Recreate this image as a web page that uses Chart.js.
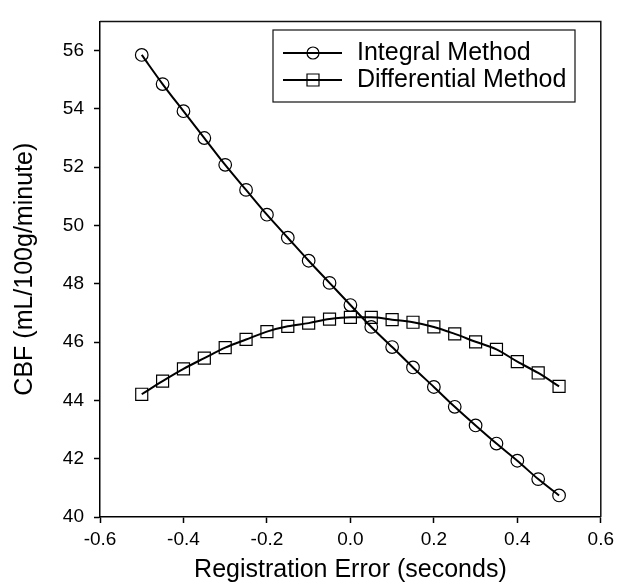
<!DOCTYPE html>
<html>
<head>
<meta charset="utf-8">
<script src="https://cdn.jsdelivr.net/npm/chart.js@4.4.1/dist/chart.umd.min.js"></script>
<style>
  html, body { margin: 0; padding: 0; background: #fff; }
  #wrap { width: 619px; height: 586px; position: relative; }
</style>
</head>
<body>
<div id="wrap"><canvas id="c" width="619" height="586"></canvas></div>
<script>
const errors = [-0.5, -0.45, -0.4, -0.35, -0.3, -0.25, -0.2, -0.15, -0.1, -0.05, 0, 0.05, 0.1, 0.15, 0.2, 0.25, 0.3, 0.35, 0.4, 0.45, 0.5];
const integralCBF = [55.85, 54.85, 53.92, 53.0, 52.08, 51.22, 50.37, 49.58, 48.79, 48.03, 47.27, 46.52, 45.83, 45.13, 44.46, 43.78, 43.14, 42.52, 41.93, 41.3, 40.74];
const differentialCBF = [44.21, 44.66, 45.08, 45.45, 45.81, 46.09, 46.36, 46.54, 46.65, 46.79, 46.85, 46.85, 46.77, 46.68, 46.52, 46.28, 46.01, 45.75, 45.33, 44.94, 44.48];
const xTicks = [-0.6, -0.4, -0.2, 0.0, 0.2, 0.4, 0.6];
const yTicks = [40, 42, 44, 46, 48, 50, 52, 54, 56];
const seriesLabels = ['Integral Method', 'Differential Method'];

const toPts = (ys) => errors.map((x, i) => ({ x: x, y: ys[i] }));
const FONT = '"Liberation Sans", Arial, sans-serif';

const framePlugin = {
  id: 'frame',
  afterDatasetsDraw(chart) {
    const { ctx, chartArea: a } = chart;
    ctx.save();
    ctx.strokeStyle = '#111';
    ctx.lineWidth = 1.5;
    ctx.beginPath();
    ctx.moveTo(a.left, a.top);
    ctx.lineTo(a.right, a.top);
    ctx.lineTo(a.right, a.bottom);
    ctx.stroke();
    ctx.restore();
  }
};

const legendPlugin = {
  id: 'insideLegend',
  afterDraw(chart) {
    const { ctx } = chart;
    const box = { x: 273, y: 30, w: 302, h: 72 };
    ctx.save();
    ctx.fillStyle = '#fff';
    ctx.fillRect(box.x, box.y, box.w, box.h);
    ctx.strokeStyle = '#111';
    ctx.lineWidth = 1.2;
    ctx.strokeRect(box.x, box.y, box.w, box.h);
    const rows = [53, 80];
    chart.data.datasets.forEach((ds, i) => {
      const y = rows[i];
      ctx.strokeStyle = '#000';
      ctx.lineWidth = 1.8;
      ctx.beginPath();
      ctx.moveTo(283, y);
      ctx.lineTo(342, y);
      ctx.stroke();
      ctx.lineWidth = 1.2;
      ctx.beginPath();
      if (ds.pointStyle === 'circle') {
        ctx.arc(313, y, 6, 0, Math.PI * 2);
      } else {
        ctx.rect(313 - 6, y - 6, 12, 12);
      }
      ctx.stroke();
      ctx.fillStyle = '#000';
      ctx.font = '25px ' + FONT;
      ctx.textBaseline = 'middle';
      ctx.textAlign = 'left';
      ctx.fillText(ds.label, 357, y);
    });
    ctx.restore();
  }
};

new Chart(document.getElementById('c'), {
  type: 'line',
  data: {
    datasets: [
      {
        label: seriesLabels[0],
        data: toPts(integralCBF),
        borderColor: '#000',
        borderWidth: 2,
        backgroundColor: 'rgba(0,0,0,0)',
        pointStyle: 'circle',
        pointRadius: 6.3,
        pointBorderWidth: 1.2,
        pointBorderColor: '#000',
        pointBackgroundColor: 'rgba(0,0,0,0)',
        cubicInterpolationMode: 'monotone',
        fill: false
      },
      {
        label: seriesLabels[1],
        data: toPts(differentialCBF),
        borderColor: '#000',
        borderWidth: 2,
        backgroundColor: 'rgba(0,0,0,0)',
        pointStyle: 'rect',
        pointRadius: 8.5,
        pointBorderWidth: 1.2,
        pointBorderColor: '#000',
        pointBackgroundColor: 'rgba(0,0,0,0)',
        cubicInterpolationMode: 'monotone',
        fill: false
      }
    ]
  },
  options: {
    responsive: false,
    animation: false,
    devicePixelRatio: 1,
    layout: { padding: { top: 13, right: 16, left: 0, bottom: 0 } },
    plugins: {
      legend: { display: false },
      tooltip: { enabled: false }
    },
    scales: {
      x: {
        type: 'linear',
        min: -0.6,
        max: 0.6,
        afterBuildTicks: (s) => { s.ticks = xTicks.map(v => ({ value: v })); },
        afterFit: (s) => { s.height = 69; },
        ticks: {
          color: '#000',
          font: { family: FONT, size: 19 },
          padding: 5,
          maxRotation: 0,
          callback: (v) => Number(v).toFixed(1)
        },
        grid: { display: true, drawOnChartArea: false, drawTicks: true, tickLength: 6, tickColor: '#000', tickWidth: 1.5 },
        border: { display: true, color: '#000', width: 1.5 },
        title: {
          display: true,
          text: 'Registration Error (seconds)',
          color: '#000',
          font: { family: FONT, size: 25 },
          padding: { top: 0, bottom: 1 }
        }
      },
      y: {
        type: 'linear',
        min: 40,
        max: 57,
        afterBuildTicks: (s) => { s.ticks = yTicks.map(v => ({ value: v })); },
        afterFit: (s) => { s.width = 100; },
        ticks: {
          color: '#000',
          font: { family: FONT, size: 19 },
          padding: 10,
          callback: (v) => String(v)
        },
        grid: { display: true, drawOnChartArea: false, drawTicks: true, tickLength: 6, tickColor: '#000', tickWidth: 1.5 },
        border: { display: true, color: '#000', width: 1.5 },
        title: {
          display: true,
          text: 'CBF (mL/100g/minute)',
          color: '#000',
          font: { family: FONT, size: 25 },
          padding: { top: 10, bottom: 0 }
        }
      }
    }
  },
  plugins: [framePlugin, legendPlugin]
});
</script>
</body>
</html>
